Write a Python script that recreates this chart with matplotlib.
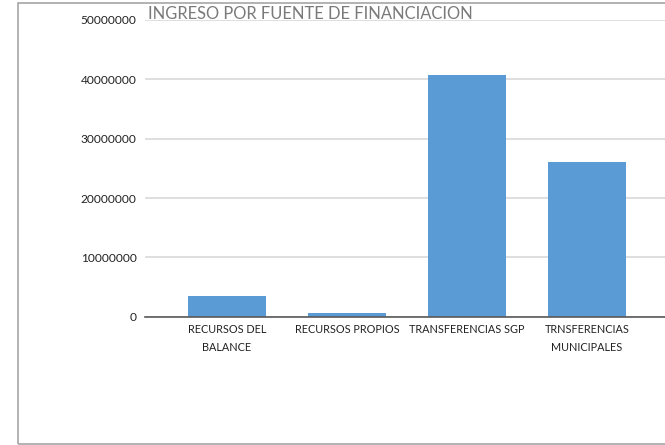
import matplotlib.pyplot as plt
import numpy as np
from matplotlib.patches import Rectangle

categorias = ["RECURSOS DEL\nBALANCE", "RECURSOS PROPIOS", "TRANSFERENCIAS SGP", "TRNSFERENCIAS\nMUNICIPALES"]
ingresos = [3540000, 670000, 40700000, 26100000]
y_ticks = [0, 10000000, 20000000, 30000000, 40000000, 50000000]
titulo = "INGRESO POR FUENTE DE FINANCIACION"


def grafico():
    plt.rcParams["font.family"] = ["Lato", "DejaVu Sans"]

    fig = plt.figure(figsize=(6.65, 4.45), dpi=100)
    # marco gris del grafico
    fig.patches.append(Rectangle((18 / 665, 1 / 445), 1.0, 441 / 445, transform=fig.transFigure,
                                 fill=False, edgecolor="#a6a6a6", linewidth=1.2))

    ax = fig.add_axes([145 / 665, 128.3 / 445, 520 / 665, 296.7 / 445])
    x = np.arange(len(categorias))
    ax.bar(x, ingresos, 0.654, color="#5b9bd5", zorder=3)

    ax.set_xlim(-0.6825, 3.651)
    ax.set_ylim(0, 50000000)
    ax.set_yticks(y_ticks)
    ax.set_yticklabels([str(v) for v in y_ticks], fontsize=8.6, color="#222222")
    ax.set_xticks(x)
    ax.set_xticklabels(categorias, fontsize=7.8, color="#222222", linespacing=1.8)
    ax.tick_params(axis="both", length=0)
    ax.tick_params(axis="y", pad=6)
    ax.tick_params(axis="x", pad=5)

    ax.grid(axis="y", color="#d9d9d9", linewidth=1.2, zorder=0)
    for s in ["top", "right", "left"]:
        ax.spines[s].set_visible(False)
    ax.spines["bottom"].set_color("#595959")
    ax.spines["bottom"].set_linewidth(1.2)
    ax.spines["bottom"].set_zorder(4)

    fig.text(148 / 665, (445 - 19) / 445, titulo, fontsize=11.9, color="#7a7a7a",
             va="baseline", ha="left")

    plt.savefig("out.png", dpi=100)


if __name__ == "__main__":
    grafico()
